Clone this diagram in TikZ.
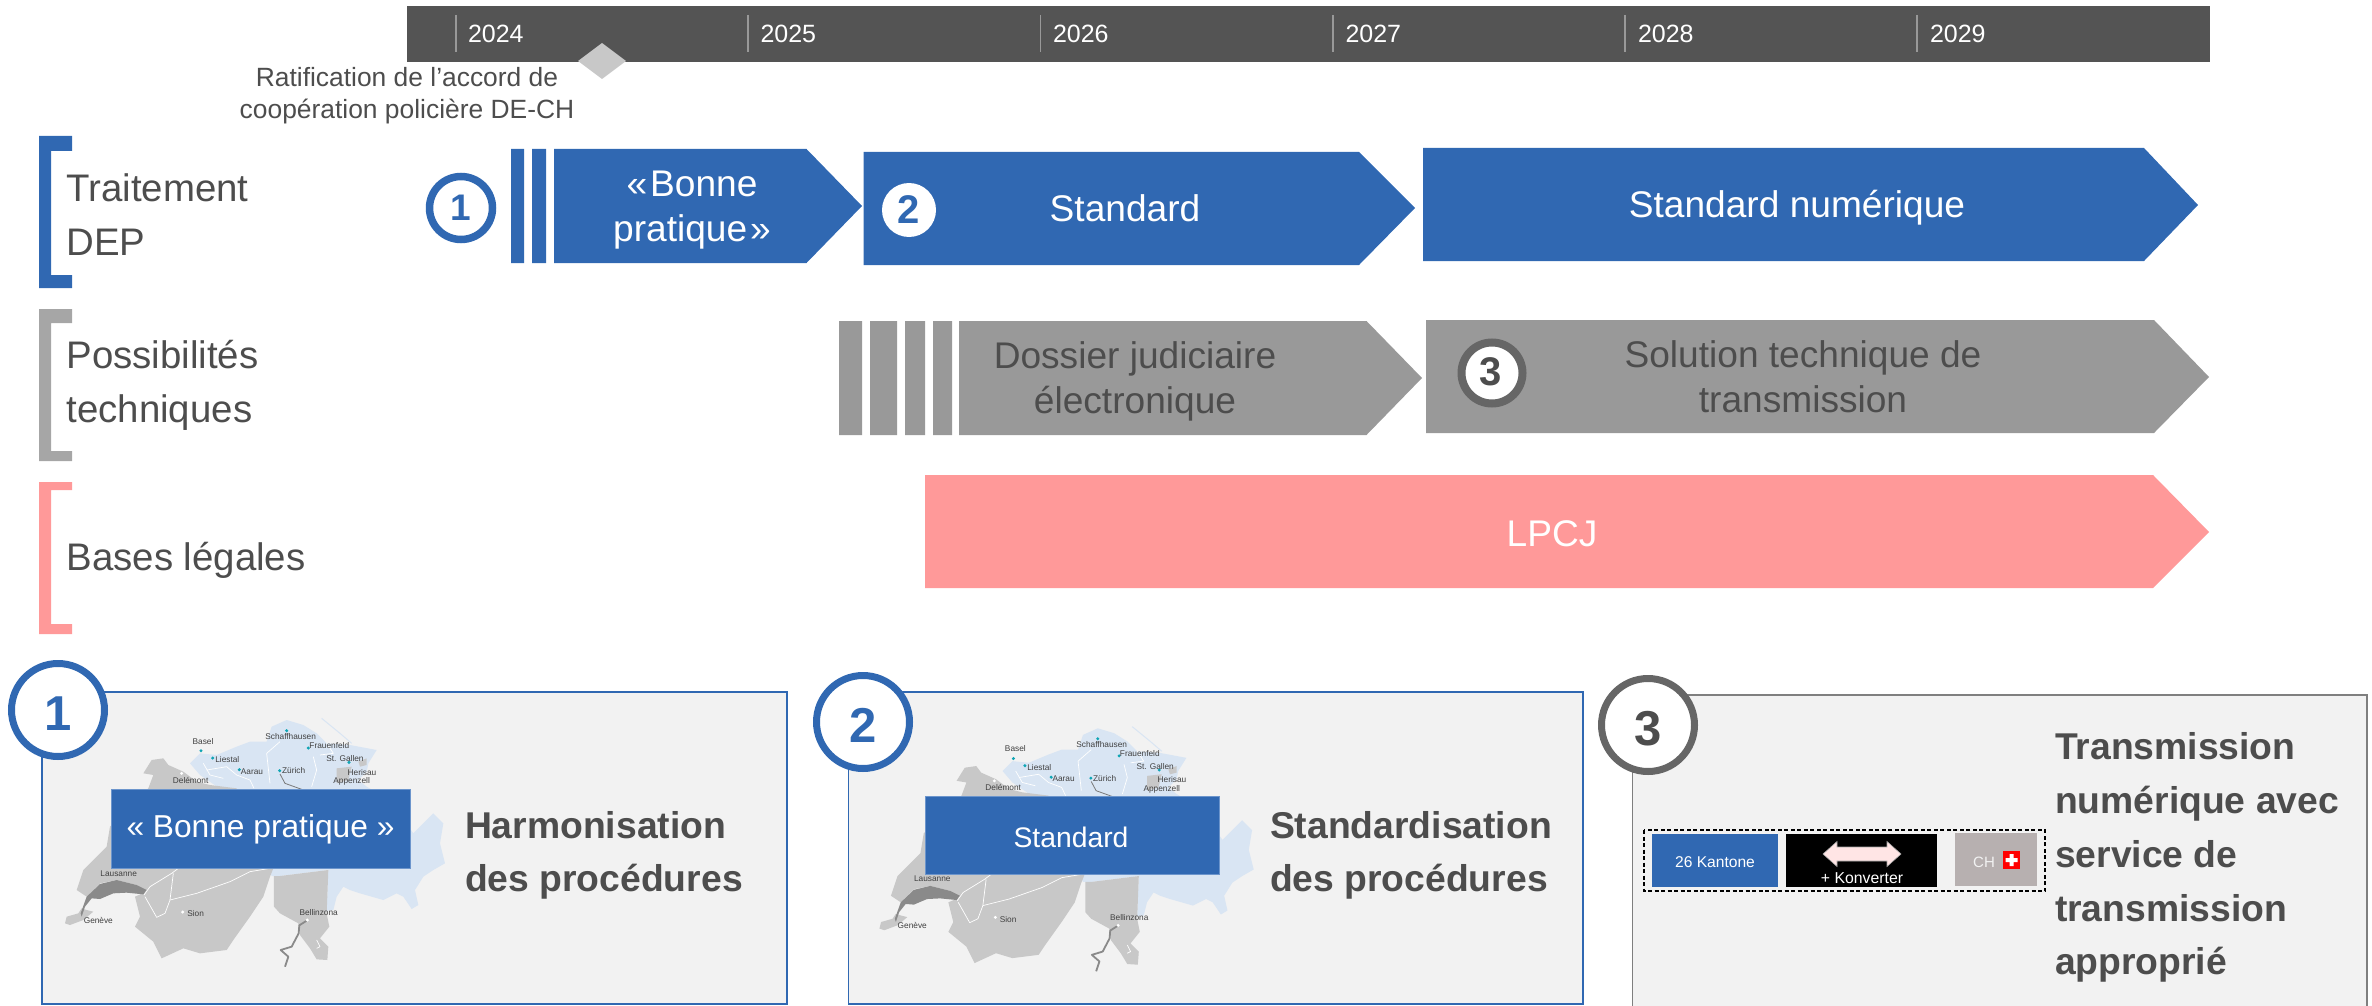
\documentclass[tikz,border=0pt]{standalone}
\usepackage{fontspec}
\setmainfont{Liberation Sans}
\definecolor{cblue}{HTML}{3068B2}
\definecolor{cedge}{HTML}{6C95CC}
\definecolor{cgray}{HTML}{999999}
\definecolor{cbrk}{HTML}{A6A6A6}
\definecolor{cpink}{HTML}{FF9999}
\definecolor{ctext}{HTML}{4D4D4D}
\definecolor{cbar}{HTML}{545454}
\definecolor{cpanel}{HTML}{F2F2F2}
\definecolor{cring}{HTML}{666666}
\definecolor{cmapg}{HTML}{C8C8C8}
\definecolor{cmapb}{HTML}{D9E5F3}
\definecolor{clake}{HTML}{8A8A8A}
\definecolor{cteal}{HTML}{10A5B5}
\definecolor{cmap}{HTML}{404040}
\definecolor{cchbox}{HTML}{B7B0B0}
\definecolor{cframe}{HTML}{7F7F7F}
\tikzset{
  txt/.style={inner sep=0pt,outer sep=0pt,anchor=base,font=\fontsize{#1}{#1}\selectfont},
  ltxt/.style={inner sep=0pt,outer sep=0pt,anchor=base west,font=\fontsize{#1}{#1}\selectfont},
  btxt/.style={inner sep=0pt,outer sep=0pt,anchor=base,font=\fontsize{#1}{#1}\selectfont\bfseries},
  bltxt/.style={inner sep=0pt,outer sep=0pt,anchor=base west,font=\fontsize{#1}{#1}\selectfont\bfseries},
  head/.style={ltxt=38.4,text=ctext},
  white37/.style={txt=37.1,text=white},
  dark37/.style={txt=37.1,text=ctext},
  title37/.style={bltxt=37.3,text=ctext},
  ring/.style={fill=white,line width=7.5pt},
  bigring/.style={fill=white,line width=7pt},
  panel/.style={fill=cpanel,draw=cblue,line width=1.8pt},
  mapname/.style={txt=8.3,text=cmap},
  dotb/.style={fill=cteal},
  dotw/.style={fill=white},
  borderw/.style={draw=white,line width=.7pt,line join=round},
  blueedge/.style={fill=cblue,draw=cedge,line width=.8pt},
}
\newcommand{\swissmap}[1]{%
  \fill[cmapb] (420,190)--(450,160)--(500,165)--(560,140)--(600,125)--(650,125)--(665,80)--(710,60)--(760,75)--(800,100)--(830,130)--(900,135)--(980,150)--(955,190)--(950,215)--(925,240)--(950,260)--(1020,300)--(1090,400)--(1120,370)--(1150,340)--(1180,370)--(1170,430)--(1185,490)--(1150,510)--(1120,530)--(1095,570)--(1105,615)--(1085,627)--(1060,590)--(1040,580)--(1000,600)--(930,580)--(900,570)--(880,560)--(860,590)--(850,630)--(830,632)--(835,510)--(690,528)--(665,528)--(560,300)--(450,225)--cycle;
  \draw[cmapb,line width=1pt] (815,55)--(870,100)--(905,130);
  \fill[cmapg] (305,180)--(340,175)--(355,195)--(400,215)--(440,245)--(480,255)--(560,265)--(672,500)--(660,530)--(640,590)--(600,650)--(550,720)--(530,750)--(450,760)--(400,745)--(335,775)--(310,725)--(255,680)--(270,650)--(255,590)--(290,575)--(260,555)--(200,540)--(150,550)--(110,590)--(80,570)--(100,510)--(170,440)--(180,380)--(295,265)--(310,225)--(280,220)--cycle;
  \fill[cmapg] (45,670)--(50,650)--(85,640)--(95,625)--(110,630)--(130,635)--(100,660)--(60,675)--cycle;
  \fill[cmapg] (672,528)--(690,528)--(835,510)--(830,640)--(838,680)--(810,715)--(835,740)--(832,780)--(800,778)--(780,745)--(750,705)--(745,670)--(690,640)--(672,620)--cycle;
  \fill[cmapg] (860,205)--(905,200)--(895,240)--(860,250)--cycle;
  \fill[cmapg] (925,185)--(950,175)--(950,195)--(930,200)--cycle;
  \fill[clake] (150,552)--(200,540)--(260,555)--(290,570)--(280,583)--(230,578)--(190,580)--(150,597)--(125,595)--(105,620)--(95,650)--(92,640)--(110,590)--cycle;
  \draw[clake,line width=1.8pt,line join=round] (770,662)--(748,676)--(746,700)--(725,740)--(692,750)--(715,770)--(705,800);
  \draw[borderw] (285,590)--(320,652)--(345,640)--(360,600)--(440,580)--(540,545)--(600,515)--(660,505);
  \draw[borderw] (282,585)--(300,560)--(365,520)--(385,505) (360,600)--(370,520);
  \draw[borderw] (470,210)--(530,200)--(560,225)--(600,240)--(612,265);
  \draw[borderw] (690,125)--(650,160)--(660,250) (790,170)--(800,210)--(785,260) (810,165)--(850,160)--(830,130) (460,190)--(480,225)--(520,235) (800,720)--(810,740)--(800,745);
  \draw[cmap!70,line width=.8pt] (690,222)--(705,250)--(755,268);
  \foreach \x/\y in {453/152,488/174,568/209,689/212,710/92,775/144,897/187} {\fill[dotb] (\x,\y) circle (5);}
  \foreach \x/\y in {395/220,398/636,772/660} {\fill[dotw] (\x,\y) circle (5);}
  \node[mapname] (#1a) at (459,132) {Basel};
  \node[mapname] (#1b) at (532,188) {Liestal};
  \node[mapname] (#1c) at (606,223) {Aarau};
  \node[mapname] (#1d) at (731,221) {Zürich};
  \node[mapname] (#1e) at (722,118) {Schaffhausen};
  \node[mapname] (#1f) at (838,145) {Frauenfeld};
  \node[mapname] (#1g) at (885,185) {St. Gallen};
  \node[mapname] (#1h) at (936,226) {Herisau};
  \node[mapname] (#1i) at (905,251) {Appenzell};
  \node[mapname] (#1j) at (422,249) {Delémont};
  \node[mapname] (#1k) at (206,528) {Lausanne};
  \node[mapname] (#1l) at (145,670) {Genève};
  \node[mapname] (#1m) at (437,650) {Sion};
  \node[mapname] (#1n) at (806,645) {Bellinzona};
}
\begin{document}
\begin{tikzpicture}[x=1pt,y=-1pt]
\useasboundingbox (0,0) rectangle (2372,1006);
\clip (0,0) rectangle (2372,1006);
% time bar
\fill[cbar] (407,6) rectangle (2210,62);
\foreach \x in {456,748,1040.5,1333,1625,1917} {\draw[gray!80,line width=1.2pt] (\x,15)--(\x,52);}
\foreach \n/\x/\t in {ya/468/2024,yb/760.5/2025,yc/1053/2026,yd/1345.5/2027,ye/1638/2028,yf/1930/2029}
  {\node[ltxt=25,text=white] (\n) at (\x,43) {\t};}
\fill[cmapg] (602,43)--(626,61)--(602,79)--(578,61)--cycle;
\node[txt=26.4,text=ctext] (rat1) at (407,87) {Ratification de l’accord de};
\node[txt=26.4,text=ctext] (rat2) at (407,119) {coopération policière DE-CH};
% brackets
\fill[cblue] (39,136)--(72,136)--(72,151)--(51,151)--(51,275)--(72,275)--(72,288)--(39,288)--cycle;
\fill[cbrk] (39,309)--(72,309)--(72,323)--(51,323)--(51,451)--(72,451)--(72,461)--(39,461)--cycle;
\fill[cpink] (39,482)--(72,482)--(72,490)--(51,490)--(51,624)--(72,624)--(72,634)--(39,634)--cycle;
\node[head] (h1a) at (66.5,201) {Traitement};
\node[head] (h1b) at (66.5,255) {DEP};
\node[head] (h2a) at (66.5,368) {Possibilités};
\node[head] (h2b) at (66.5,422) {techniques};
\node[head] (h3a) at (66.5,570) {Bases légales};
% blue row
\fill[cblue] (511,149) rectangle (524,263) (532,149) rectangle (546,263);
\fill[cblue] (554,149)--(806.5,149)--(862,206)--(806.5,263)--(554,263)--cycle;
\fill[cblue] (863.5,152)--(1359,152)--(1415,208)--(1359,265)--(863.5,265)--cycle;
\fill[cblue] (1423,148)--(2144,148)--(2198,205)--(2144,261)--(1423,261)--cycle;
\draw[cblue,ring] (461,208) circle (31.5);
\node[btxt=37,text=cblue] (n1) at (461,220) {1};
\node[white37] (bp1) at (692,196) {«\kern3ptBonne};
\node[white37] (bp2) at (692,241) {pratique\kern3pt»};
\fill[white] (909,210) circle (27);
\node[btxt=40,text=cblue] (n2) at (909,223) {2};
\node[white37] (st) at (1125,221) {Standard};
\node[white37] (stn) at (1797,217) {Standard numérique};
% gray row
\fill[cgray] (839,321) rectangle (862,435) (870,321) rectangle (897,435) (905,321) rectangle (925,435) (933,321) rectangle (952,435);
\fill[cgray] (959,321)--(1366.5,321)--(1422,378)--(1366.5,435)--(959,435)--cycle;
\fill[cgray] (1426,320)--(2154,320)--(2209,377)--(2154,433)--(1426,433)--cycle;
\node[dark37] (dj1) at (1135,368) {Dossier judiciaire};
\node[dark37] (dj2) at (1135,413) {électronique};
\draw[cring,fill=white,line width=8pt] (1492,373) circle (30.5);
\node[btxt=40,text=ctext] (n3) at (1491,385) {3};
\node[dark37] (so1) at (1803,367) {Solution technique de};
\node[dark37] (so2) at (1803,412) {transmission};
% pink row
\fill[cpink] (925,475)--(2153,475)--(2209,532)--(2153,588)--(925,588)--cycle;
\node[white37] (lp) at (1552,546) {LPCJ};
% panel 1
\draw[panel] (42,692) rectangle (787,1004);
\begin{scope}[shift={(50,700)},xscale=1/3,yscale=1/3]\swissmap{ma}\end{scope}
\draw[blueedge] (111,789) rectangle (410,868);
\node[txt=31.7,text=white] (pb) at (260.5,837) {« Bonne pratique »};
\node[title37] (t1a) at (465,838) {Harmonisation};
\node[title37] (t1b) at (465,891) {des procédures};
\draw[cblue,bigring] (58,710) circle (46.5);
\node[btxt=49,text=cblue] (c1) at (58,730) {1};
% panel 2
\draw[panel] (848.5,692) rectangle (1583,1004);
\begin{scope}[shift={(864.65,708.6)},xscale=.985/3,yscale=.985/3]\swissmap{mb}\end{scope}
\draw[blueedge] (925,796) rectangle (1219,874);
\node[txt=28.3,text=white] (ps) at (1071,847) {Standard};
\node[title37] (t2a) at (1270,838) {Standardisation};
\node[title37] (t2b) at (1270,891) {des procédures};
\draw[cblue,bigring] (863,722) circle (46.5);
\node[btxt=49,text=cblue] (c2) at (863,742) {2};
% panel 3
\fill[cpanel] (1632.5,695) rectangle (2367,1010);
\draw[cframe,line width=1.8pt] (1632.5,1010)--(1632.5,695)--(2367,695)--(2367,1010);
\draw[black,line width=1.3pt,dash pattern=on 4pt off 2.5pt] (1644,830) rectangle (2045,891);
\fill[cblue] (1652,834) rectangle (1778,887);
\node[txt=15.6,text=white] (k26) at (1715,867) {26 Kantone};
\fill[black] (1786,834) rectangle (1937,887);
\draw[gray!70,fill=red!10,line width=.6pt] (1823,854)--(1837,841.5)--(1837,847)--(1887,847)--(1887,841.5)--(1901,854)--(1887,866.5)--(1887,861)--(1837,861)--(1837,866.5)--cycle;
\node[txt=15.8,text=white] (kv) at (1862,883) {+ Konverter};
\fill[cchbox] (1955,833) rectangle (2037,886);
\node[txt=15,text=cpanel] (ch) at (1984,867) {CH};
\fill[red] (2003,851) rectangle (2020,869);
\fill[white] (2009.5,854) rectangle (2013.5,866) (2005.5,858) rectangle (2017.5,862);
\node[title37] (t3a) at (2055,759) {Transmission};
\node[title37] (t3b) at (2055,813) {numérique avec};
\node[title37] (t3c) at (2055,867) {service de};
\node[title37] (t3d) at (2055,921) {transmission};
\node[title37] (t3e) at (2055,974) {approprié};
\draw[cring,bigring] (1648,725) circle (46.5);
\node[btxt=49,text=ctext] (c3) at (1648,745) {3};
\end{tikzpicture}
\end{document}
